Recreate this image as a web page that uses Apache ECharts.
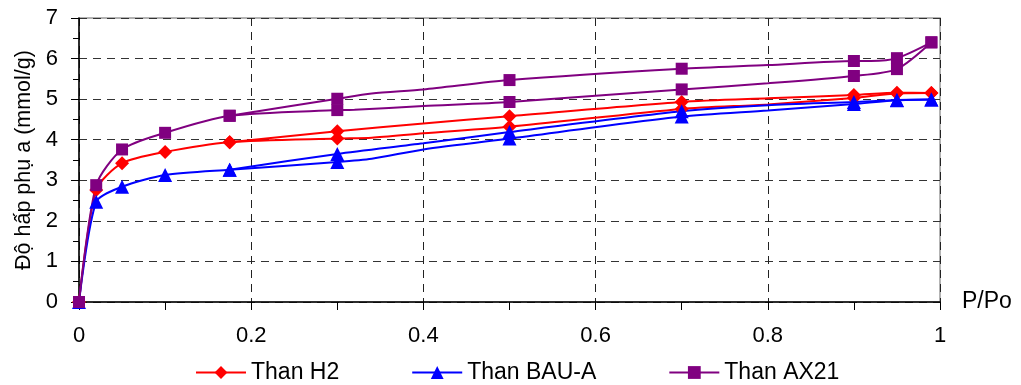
<!DOCTYPE html>
<html>
<head>
<meta charset="utf-8">
<script src="https://cdn.jsdelivr.net/npm/echarts@6/dist/echarts.min.js"></script>
<style>
  html, body { margin: 0; padding: 0; background: #fff; }
  #chart { width: 1021px; height: 385px; }
</style>
</head>
<body>
<div id="chart"></div>
<script>
// P/Po values where a marker is drawn
const markedP = [0, 0.02, 0.05, 0.1, 0.175, 0.3, 0.5, 0.7, 0.9, 0.95, 0.99]

// Than H2 (adsorption / desorption branches)
const h2AdsX = [0, 0.02, 0.05, 0.1, 0.175, 0.3, 0.34, 0.4, 0.5, 0.7, 0.8, 0.9, 0.95, 0.99]
const h2AdsY = [0, 2.76, 3.42, 3.70, 3.94, 4.03, 4.05, 4.16, 4.32, 4.76, 4.87, 5.03, 5.14, 5.15]
const h2DesX = [0.99, 0.95, 0.9, 0.8, 0.7, 0.5, 0.4, 0.3, 0.175]
const h2DesY = [5.15, 5.16, 5.10, 5.02, 4.93, 4.58, 4.40, 4.21, 3.94]

// Than BAU-A
const bauAdsX = [0, 0.02, 0.05, 0.1, 0.175, 0.3, 0.34, 0.4, 0.5, 0.7, 0.8, 0.9, 0.95, 0.99]
const bauAdsY = [0, 2.47, 2.84, 3.13, 3.26, 3.45, 3.53, 3.76, 4.03, 4.57, 4.72, 4.88, 4.97, 4.99]
const bauDesX = [0.99, 0.95, 0.9, 0.8, 0.7, 0.5, 0.4, 0.3, 0.175]
const bauDesY = [4.99, 4.98, 4.93, 4.85, 4.70, 4.19, 3.91, 3.65, 3.26]

// Than AX21
const axAdsX = [0, 0.02, 0.05, 0.1, 0.175, 0.3, 0.32, 0.4, 0.5, 0.7, 0.8, 0.9, 0.95, 0.99]
const axAdsY = [0, 2.88, 3.76, 4.17, 4.59, 4.73, 4.74, 4.83, 4.93, 5.24, 5.39, 5.57, 5.74, 6.40]
const axDesX = [0.99, 0.95, 0.92, 0.9, 0.8, 0.7, 0.5, 0.4, 0.34, 0.3, 0.175]
const axDesY = [6.40, 6.01, 5.94, 5.94, 5.84, 5.75, 5.47, 5.24, 5.14, 5.01, 4.59]

const xTicks = [0, 0.2, 0.4, 0.6, 0.8, 1]
const yTicks = [0, 1, 2, 3, 4, 5, 6, 7]

const names = ['Than H2', 'Than BAU-A', 'Than AX21']

function pts(xs, ys) {
  return xs.map((x, i) => {
    const p = { value: [x, ys[i]] }
    if (markedP.indexOf(x) < 0) p.symbol = 'none'
    return p
  })
}

function branch(name, color, symbol, size, xs, ys) {
  return {
    name: name,
    type: 'line',
    smooth: 0.25,
    symbol: symbol,
    symbolSize: size,
    itemStyle: { color: color },
    lineStyle: { color: color, width: 2 },
    data: pts(xs, ys)
  }
}

const chart = echarts.init(document.getElementById('chart'))

const option = {
  animation: false,
  textStyle: { fontFamily: 'Liberation Sans, Arial, sans-serif' },
  grid: {
    left: 79, right: 81, top: 18, bottom: 83,
    show: true, borderColor: '#9a9a9a', borderWidth: 1.5
  },
  legend: {
    data: names,
    top: 361,
    left: 195,
    padding: 0,
    itemWidth: 50,
    itemHeight: 16,
    itemGap: 72,
    textStyle: { fontSize: 23, color: '#000' }
  },
  xAxis: {
    type: 'value',
    min: 0, max: 1, interval: 0.2,
    name: 'P/Po',
    nameLocation: 'end',
    nameGap: 22,
    nameTextStyle: { fontSize: 23, color: '#000', padding: [22, 0, 0, 0] },
    axisLine: { onZero: false, lineStyle: { color: '#000', width: 1.5 } },
    axisTick: { show: true, length: 8, lineStyle: { color: '#000' } },
    minorTick: { show: true, splitNumber: 2, length: 8, lineStyle: { color: '#000' } },
    axisLabel: {
      fontSize: 22, color: '#000', margin: 23,
      formatter: v => xTicks.indexOf(+v.toFixed(1)) >= 0 ? String(+v.toFixed(1)) : ''
    },
    splitLine: { show: true, lineStyle: { color: '#222', type: [8, 6], width: 1 } }
  },
  yAxis: {
    type: 'value',
    min: 0, max: 7, interval: 1,
    name: 'Độ hấp phụ a (mmol/g)',
    nameLocation: 'middle',
    nameGap: 43,
    nameTextStyle: { fontSize: 21.5, color: '#000' },
    axisLine: { show: true, lineStyle: { color: '#000', width: 1.5 } },
    axisTick: { show: true, length: 8, lineStyle: { color: '#000' } },
    minorTick: { show: true, splitNumber: 2, length: 6, lineStyle: { color: '#000' } },
    axisLabel: {
      fontSize: 22, color: '#000', margin: 21,
      formatter: v => yTicks.indexOf(v) >= 0 ? String(v) : ''
    },
    splitLine: { show: true, lineStyle: { color: '#333', type: [8, 6], width: 1 } }
  },
  series: [
    branch(names[0], '#ff0000', 'diamond', 14, h2AdsX, h2AdsY),
    branch(names[0], '#ff0000', 'diamond', 14, h2DesX, h2DesY),
    branch(names[1], '#0000ff', 'triangle', 14, bauAdsX, bauAdsY),
    branch(names[1], '#0000ff', 'triangle', 14, bauDesX, bauDesY),
    branch(names[2], '#800080', 'rect', 12, axAdsX, axAdsY),
    branch(names[2], '#800080', 'rect', 12, axDesX, axDesY)
  ]
}

chart.setOption(option)
</script>
</body>
</html>
